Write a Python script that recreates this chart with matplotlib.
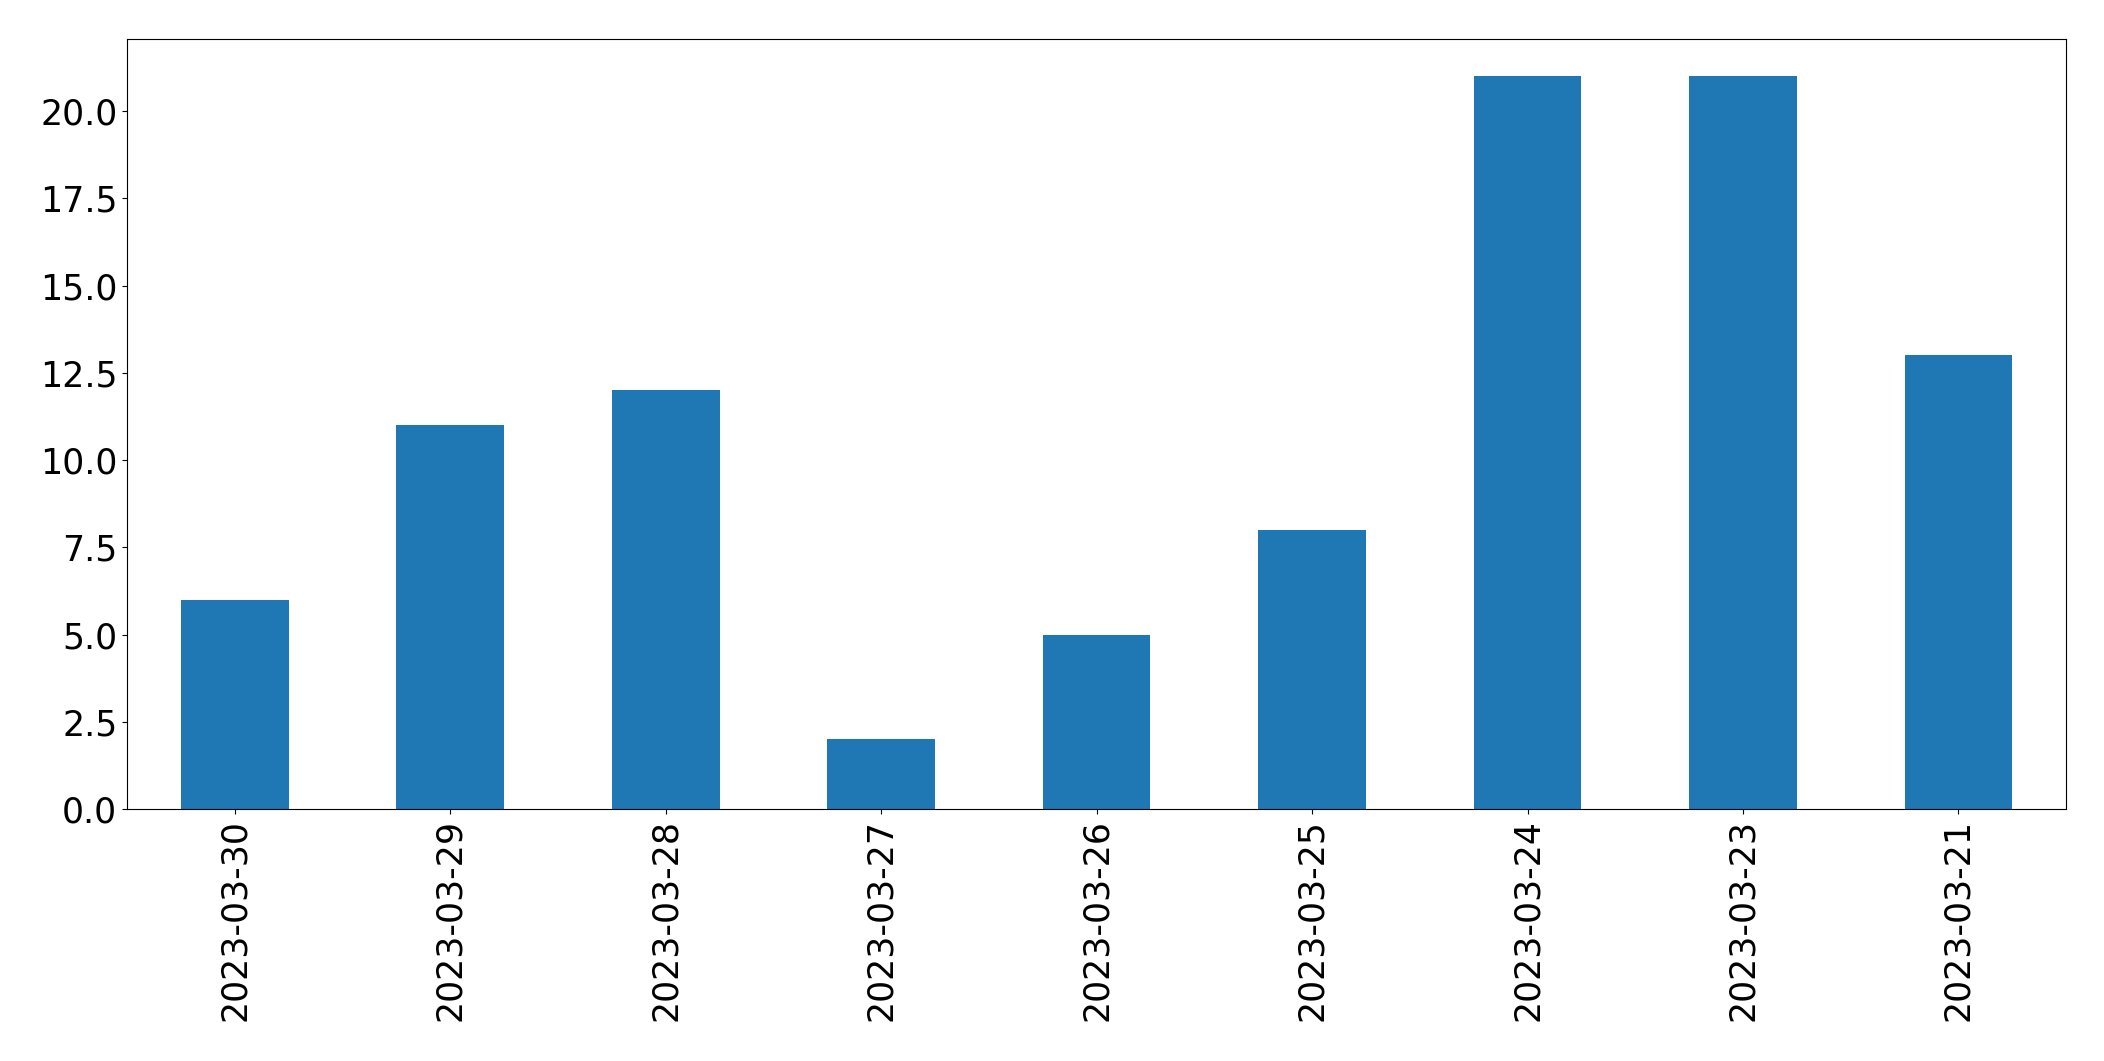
import matplotlib
matplotlib.use("Agg")
import matplotlib.pyplot as plt
import pandas as pd

# ── data ──────────────────────────────────────────────────────────────────────
dates = ["2023-03-30", "2023-03-29", "2023-03-28", "2023-03-27", "2023-03-26",
         "2023-03-25", "2023-03-24", "2023-03-23", "2023-03-21"]
counts = [6, 11, 12, 2, 5, 8, 21, 21, 13]

series = pd.Series(counts, index=dates)

# ── plot ──────────────────────────────────────────────────────────────────────
fig, ax = plt.subplots(figsize=(21.04, 10.61), dpi=100)
series.plot(kind="bar", ax=ax, color="#1f77b4", fontsize=25)
ax.tick_params(axis="both", labelsize=25)
fig.subplots_adjust(left=0.0604, right=0.982, bottom=0.2375, top=0.9628)
fig.savefig("out.png", dpi=100)
